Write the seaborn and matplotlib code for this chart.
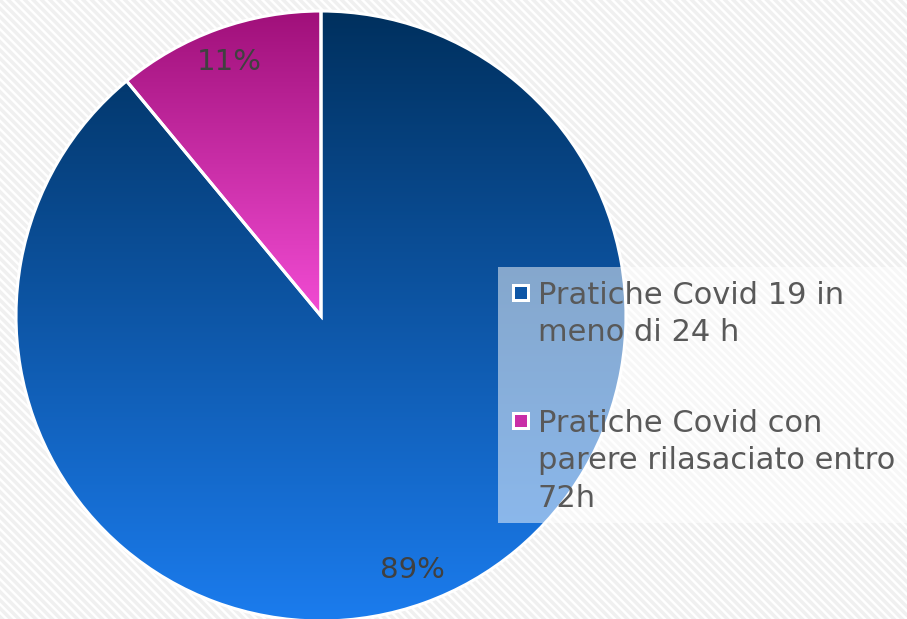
import numpy as np
import matplotlib
matplotlib.use("Agg")
import matplotlib.pyplot as plt
import matplotlib.colors as mcolors
from matplotlib.patches import Rectangle
import seaborn as sns

# data
categories = ["Pratiche Covid 19 in\nmeno di 24 h",
              "Pratiche Covid con\nparere rilasaciato entro\n72h"]
shares = [89, 11]
top_colors = ["#00305e", "#a0107a"]
bottom_colors = ["#1b7cee", "#f24cd4"]

sns.set_theme(style="white")
plt.rcParams["font.family"] = ["DejaVu Sans"]
plt.rcParams["hatch.linewidth"] = 2.5

W, H = 907, 619
fig = plt.figure(figsize=(W / 100, H / 100), dpi=100)
fig.patch.set_facecolor("white")

# striped background, pixel coordinates with origin top-left
bg = fig.add_axes([0, 0, 1, 1])
bg.set_axis_off()
bg.set_xlim(0, W)
bg.set_ylim(H, 0)
bg.add_patch(Rectangle((0, 0), W, H, facecolor="white",
                       edgecolor="#f0f0f0", hatch="\\\\\\\\", linewidth=0))

cx, cy, r = 321, 316, 305
ax = fig.add_axes([(cx - r) / W, (H - cy - r) / H, 2 * r / W, 2 * r / H])
ax.set_axis_off()

wedges, texts, autotexts = ax.pie(
    shares, startangle=90, counterclock=False, colors=top_colors,
    autopct="%d%%", pctdistance=0.885,
    wedgeprops=dict(edgecolor="white", linewidth=2.2),
    textprops=dict(color="#404040", fontsize=21))

# vertical gradient clipped to each wedge
for w, c0, c1 in zip(wedges, top_colors, bottom_colors):
    ext = w.get_path().get_extents()
    cmap = mcolors.LinearSegmentedColormap.from_list("g", [c1, c0])
    grad = np.linspace(0, 1, 256).reshape(-1, 1)
    im = ax.imshow(grad, cmap=cmap, origin="lower", aspect="auto",
                   extent=(ext.x0, ext.x1, ext.y0, ext.y1), zorder=w.get_zorder())
    im.set_clip_path(w)
    w.set_facecolor("none")
    w.set_zorder(w.get_zorder() + 0.5)
for t in autotexts:
    t.set_zorder(5)
ax.set_xlim(-1, 1)
ax.set_ylim(-1, 1)

# legend: translucent box on top of the pie, markers aligned with first line
lg = fig.add_axes([0, 0, 1, 1], facecolor="none")
lg.set_axis_off()
lg.set_xlim(0, W)
lg.set_ylim(H, 0)
lg.add_patch(Rectangle((498, 267), W - 498, 256, facecolor="white",
                       alpha=0.5, linewidth=0))
for i, (lab, c0, c1) in enumerate(zip(categories, top_colors, bottom_colors)):
    base = 305 + i * 128
    lg.add_patch(Rectangle((512, base - 21), 18, 18, facecolor="white", linewidth=0))
    mid = np.mean([mcolors.to_rgb(c0), mcolors.to_rgb(c1)], axis=0)
    lg.add_patch(Rectangle((515, base - 18), 12, 12, facecolor=mid, linewidth=0))
    lg.text(538, base - 24, lab, fontsize=22, color="#595959", va="top",
            ha="left", linespacing=1.36)

fig.savefig("out.png", dpi=100)
